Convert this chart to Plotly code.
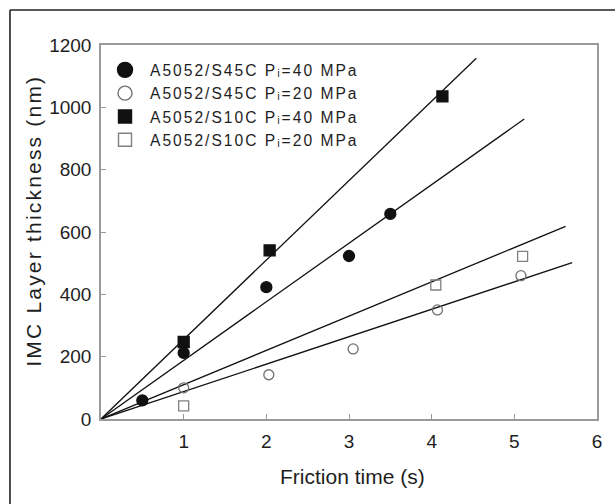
import plotly.graph_objects as go

# ---- data ----
series_names = [
    "A5052/S45C Pᵢ=40 MPa",
    "A5052/S45C Pᵢ=20 MPa",
    "A5052/S10C Pᵢ=40 MPa",
    "A5052/S10C Pᵢ=20 MPa",
]
s45c_40_t = [0.5, 1.0, 2.0, 3.0, 3.5]
s45c_40_v = [60, 212, 423, 523, 658]
s45c_20_t = [1.0, 2.03, 3.05, 4.07, 5.08]
s45c_20_v = [100, 142, 225, 350, 460]
s10c_40_t = [1.0, 2.04, 4.13]
s10c_40_v = [247, 541, 1035]
s10c_20_t = [1.0, 4.05, 5.1]
s10c_20_v = [42, 430, 522]

# fitted lines through origin: slope (nm/s) and end time (s)
fit_slope = [188, 88, 255, 110]
fit_end = [5.12, 5.70, 4.54, 5.62]

x_ticks = [1, 2, 3, 4, 5, 6]
y_ticks = [0, 200, 400, 600, 800, 1000, 1200]

FONT = "Liberation Sans, Arial, sans-serif"
AX = "#9a9a9a"
TXT = "#1e1e1e"

symbols = ["circle", "circle-open", "square", "square-open"]
colors = ["#111111", "#707070", "#111111", "#808080"]
data_t = [s45c_40_t, s45c_20_t, s10c_40_t, s10c_20_t]
data_v = [s45c_40_v, s45c_20_v, s10c_40_v, s10c_20_v]
data_size = [11, 10, 11, 10]
leg_size = [15, 14, 13, 13]

fig = go.Figure()

# fit lines
for s, e in zip(fit_slope, fit_end):
    fig.add_trace(go.Scatter(x=[0, e], y=[0, s * e], mode="lines",
                             line=dict(color="#111111", width=1.3),
                             showlegend=False, hoverinfo="skip"))

# data markers
for t, v, sym, c, sz in zip(data_t, data_v, symbols, colors, data_size):
    fig.add_trace(go.Scatter(x=t, y=v, mode="markers",
                             marker=dict(symbol=sym, size=sz, color=c,
                                         line=dict(color=c, width=1.3)),
                             showlegend=False))

# legend entries (larger markers as in the reference legend)
for name, sym, c, sz in zip(series_names, symbols, colors, leg_size):
    fig.add_trace(go.Scatter(x=[None], y=[None], mode="markers",
                             name='<span style="letter-spacing:2px">' + name + '</span>',
                             marker=dict(symbol=sym, size=sz, color=c,
                                         line=dict(color=c, width=1.4))))

fig.update_layout(
    width=615, height=504,
    margin=dict(l=101, r=18, t=45, b=85),
    paper_bgcolor="white", plot_bgcolor="white",
    font=dict(family=FONT, color=TXT),
    showlegend=True,
    legend=dict(x=-0.002, y=0.978, xanchor="left", yanchor="top",
                bgcolor="rgba(0,0,0,0)", font=dict(size=15.6, color=TXT),
                itemsizing="trace", itemwidth=40),
    xaxis=dict(range=[0, 6], tickvals=x_ticks, ticks="inside", ticklen=5,
               tickcolor=AX, tickwidth=1.3, showline=True, linecolor=AX,
               linewidth=1.5, mirror=True, showgrid=False, zeroline=False,
               ticklabelstandoff=4,
               tickfont=dict(size=19, color=TXT)),
    yaxis=dict(range=[0, 1200], tickvals=y_ticks, ticks="inside", ticklen=5,
               tickcolor=AX, tickwidth=1.3, showline=True, linecolor=AX,
               linewidth=1.5, mirror=True, showgrid=False, zeroline=False,
               ticklabelstandoff=4,
               tickfont=dict(size=19, color=TXT)),
    annotations=[
        dict(text="Friction time (s)", x=0.508, y=-0.155, xref="paper", yref="paper",
             showarrow=False, xanchor="center", yanchor="middle",
             font=dict(size=21, color=TXT)),
        dict(text="IMC Layer thickness (nm)",
             x=-0.136, y=0.53, xref="paper", yref="paper", textangle=-90,
             showarrow=False, xanchor="center", yanchor="middle",
             font=dict(size=21, color=TXT)),
    ],
    shapes=[
        dict(type="line", xref="paper", yref="paper", x0=-0.1835, x1=1.04,
             y0=1.0936, y1=1.0936, line=dict(color="#222222", width=1.6)),
        dict(type="line", xref="paper", yref="paper", x0=-0.1835, x1=-0.1835,
             y0=1.0936, y1=-0.24, line=dict(color="#222222", width=1.6)),
    ],
)

post = """
var s = document.createElement('style');
s.innerHTML = 'html,body{margin:0;padding:0;}' +
  '.annotation[data-index="1"] text{letter-spacing:2.2px;}';
document.head.appendChild(s);
"""

fig.write_html("out.html", post_script=post, config={"displayModeBar": False})
